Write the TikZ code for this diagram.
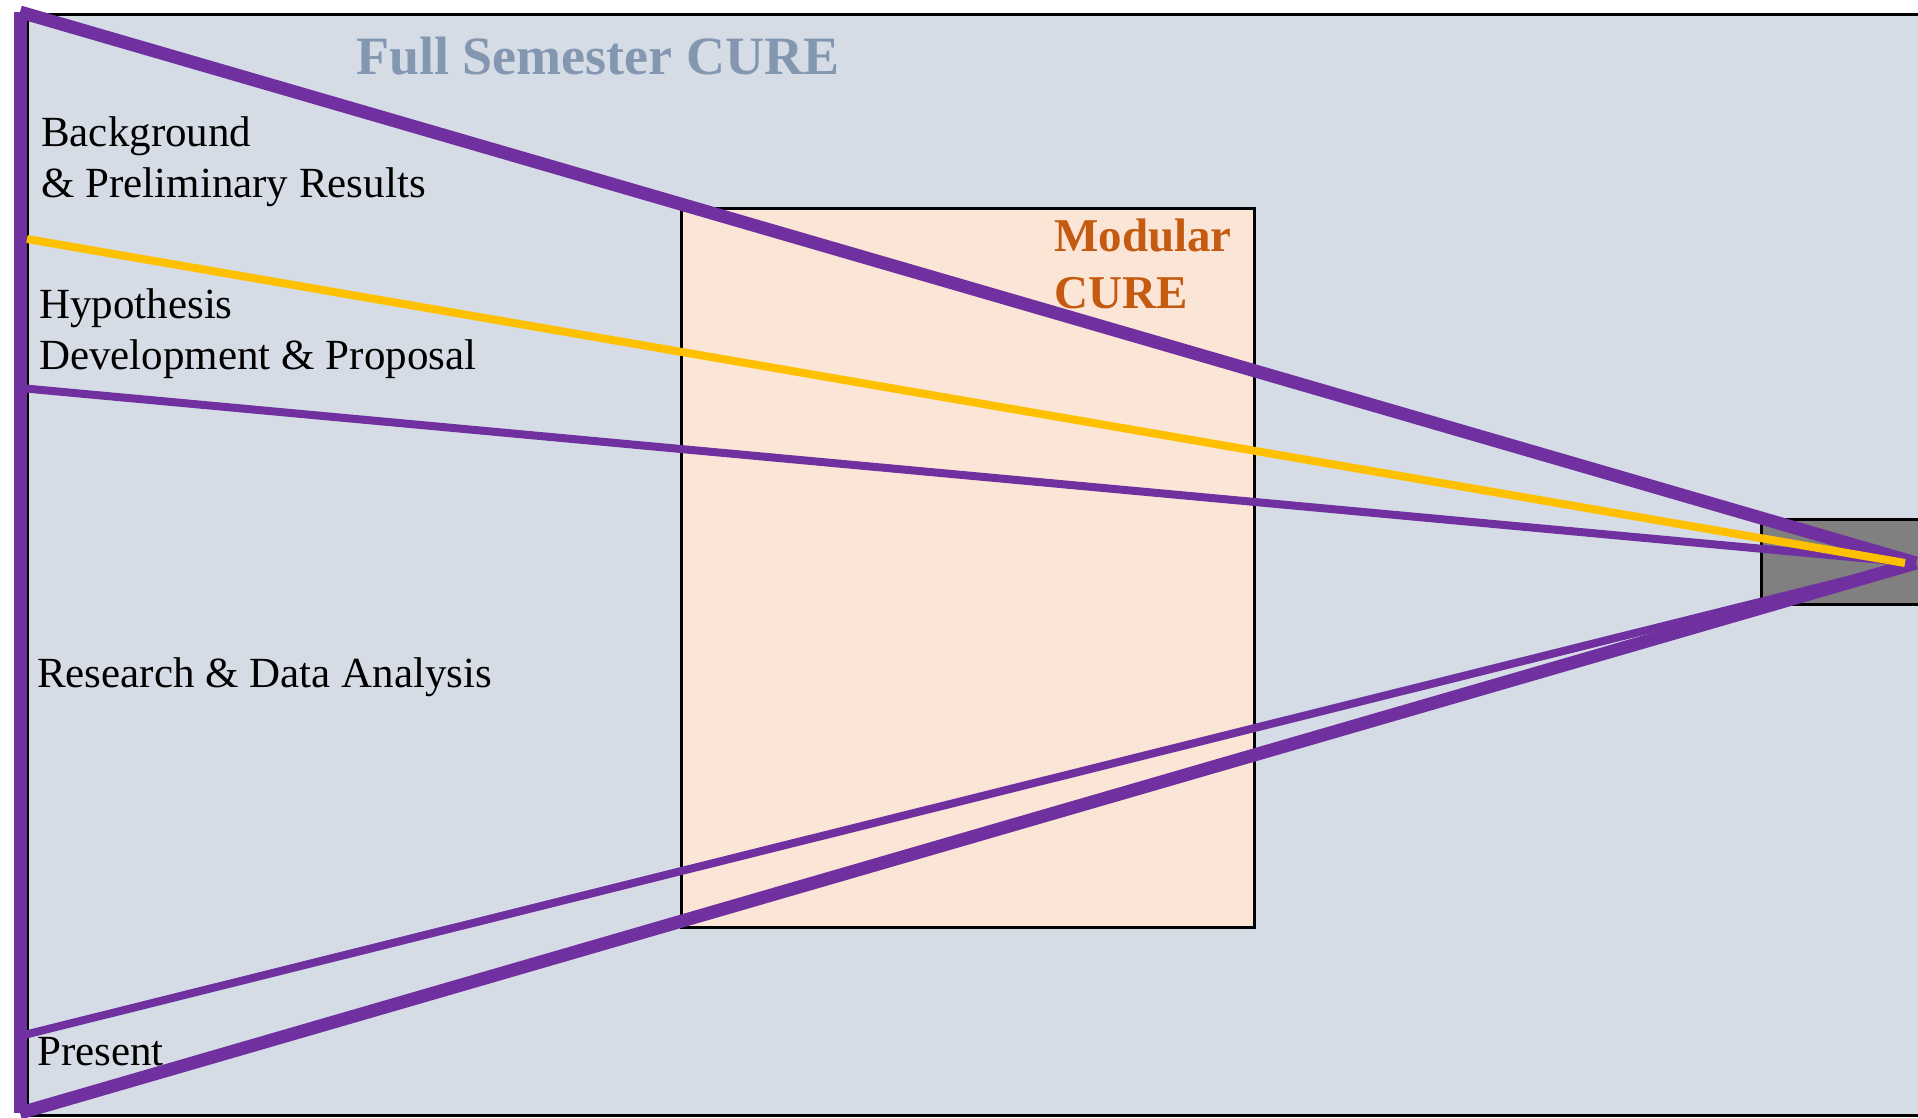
\documentclass[tikz,border=0pt]{standalone}
\usepackage{fontspec}
\setmainfont{Liberation Serif}
\definecolor{cpurple}{HTML}{7030A0}
\definecolor{cyellow}{HTML}{FFC000}
\definecolor{corange}{HTML}{C55A11}
\definecolor{cbluefill}{HTML}{D6DCE5}
\definecolor{cpeach}{HTML}{FBE5D6}
\definecolor{cgrayfill}{HTML}{808080}
\definecolor{ctitle}{HTML}{8497B0}
\begin{document}
\begin{tikzpicture}[x=1pt,y=-1pt,
  boxline/.style={draw=black,line width=3pt},
  lbl/.style={inner sep=0pt,anchor=base west,text=black,font=\fontsize{43}{51}\selectfont},
  bigtitle/.style={inner sep=0pt,anchor=base west,text=ctitle,font=\fontsize{54}{60}\selectfont\bfseries},
  modtitle/.style={inner sep=0pt,anchor=base west,text=corange,font=\fontsize{47}{57}\selectfont\bfseries},
  thickp/.style={draw=cpurple,line width=13pt},
  medp/.style={draw=cpurple,line width=8pt},
  yline/.style={draw=cyellow,line width=8pt}]
\useasboundingbox (0,0) rectangle (1918,1117);
\clip (0,0) rectangle (1918,1117);
\fill[white] (0,0) rectangle (1918,1117);
% full semester box
\path[boxline,fill=cbluefill] (27,14) rectangle (1940,1115);
% gray box
\path[boxline,fill=cgrayfill] (1761,519) rectangle (1940,604);
% modular box
\path[boxline,fill=cpeach] (681,208) rectangle (1254,927);
% titles
\node[bigtitle] (full) at (356,74) {Full Semester CURE};
\node[modtitle] (mod1) at (1054,251) {Modular};
\node[modtitle] (mod2) at (1054,308) {CURE};
% labels
\node[lbl] (bg1) at (41,146) {Background};
\node[lbl] (bg2) at (41,197) {\& Preliminary Results};
\node[lbl] (hy1) at (39,318) {Hypothesis};
\node[lbl] (hy2) at (39,369) {Development \& Proposal};
\node[lbl] (rd) at (37,687) {Research \& Data Analysis};
\node[lbl] (pr) at (37,1065) {Present};
% coordinates
\coordinate (apex) at (1916,563);
\coordinate (yend) at (1905,563);
\coordinate (tl) at (20,12);
\coordinate (bl) at (20,1113);
\coordinate (hl) at (20,388);
\coordinate (pl) at (20,1036);
\coordinate (yl) at (27,239);
% connectors
\draw[thickp] (tl) -- (bl);
\draw[medp] (hl) -- (apex);
\draw[medp] (pl) -- (apex);
\draw[thickp] (tl) -- (apex);
\draw[thickp] (bl) -- (apex);
\draw[yline] (yl) -- (yend);
\end{tikzpicture}
\end{document}
